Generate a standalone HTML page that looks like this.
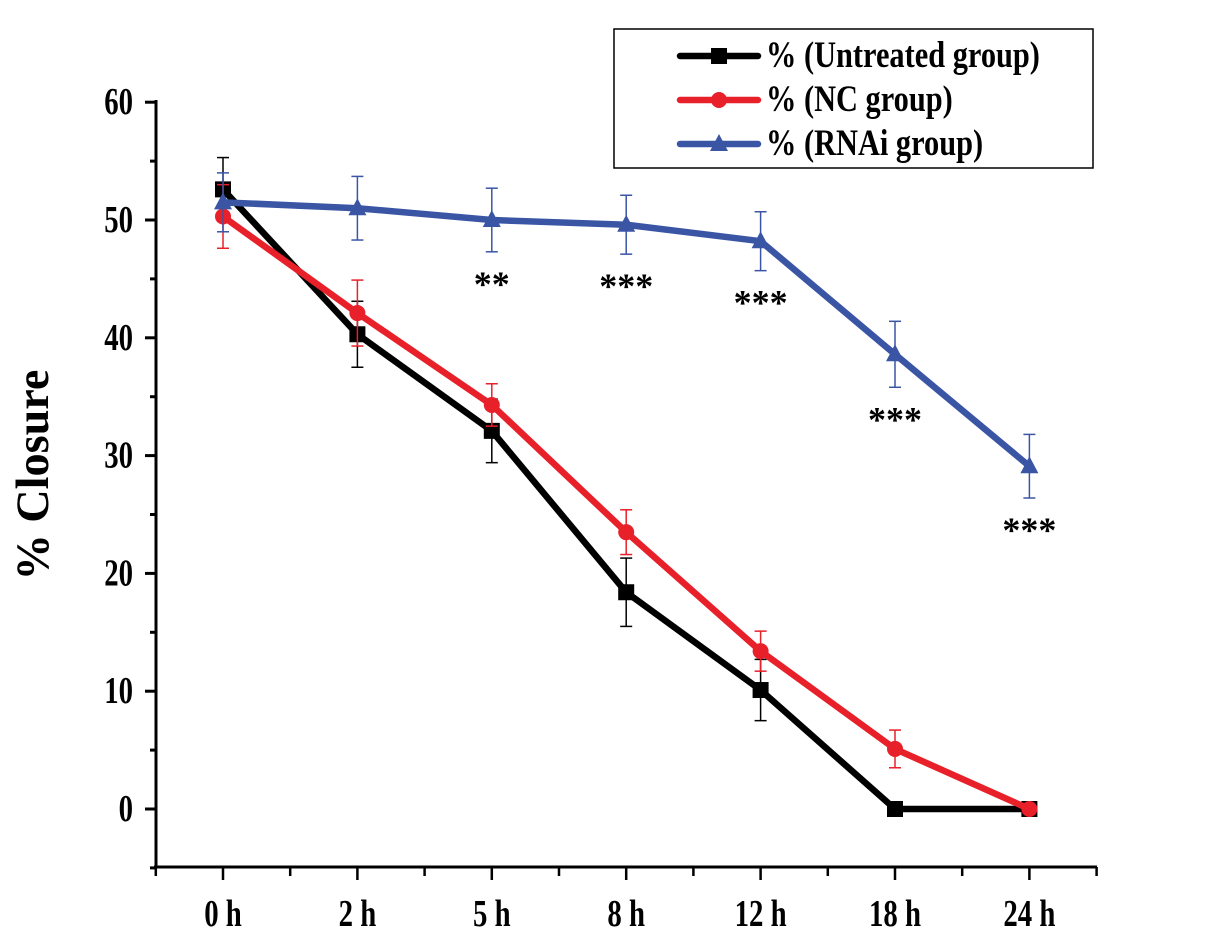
<!DOCTYPE html>
<html><head><meta charset="utf-8"><style>
body{margin:0;background:#fff;}
svg text{font-family:"Liberation Serif",serif;font-weight:bold;}
</style></head><body>
<svg id="chart" width="1205" height="934" xmlns="http://www.w3.org/2000/svg">
<g id="axes"></g>
<g id="series"></g>
<g id="legend"></g>
</svg>
<script>
const categories = ["0 h","2 h","5 h","8 h","12 h","18 h","24 h"];
const untreated = [52.6,40.3,32.1,18.4,10.1,0,0];
const untreatedErr = [2.7,2.8,2.7,2.9,2.6,0,0];
const nc = [50.3,42.1,34.3,23.5,13.4,5.1,0];
const ncErr = [2.7,2.8,1.8,1.9,1.7,1.6,0];
const rnai = [51.5,51.0,50.0,49.6,48.2,38.6,29.1];
const rnaiErr = [2.5,2.7,2.7,2.5,2.5,2.8,2.7];
const stars = ["","","**","***","***","***","***"];
const yTicks = [0,10,20,30,40,50,60];

const NS="http://www.w3.org/2000/svg";
const x0=223, dx=134.4;
const xs=i=>x0+i*dx;
const ys=v=>809-v*11.78;
function mk(parent,tag,attrs,text){const e=document.createElementNS(NS,tag);for(const k in attrs)e.setAttribute(k,attrs[k]);if(text!==undefined)e.textContent=text;parent.appendChild(e);return e;}
function tall(parent,x,y,size,anchor,str,sy,sx){
  return mk(parent,'text',{x:0,y:0,'font-size':size,'text-anchor':anchor,transform:`translate(${x},${y}) scale(${sx||0.9},${sy||1.2})`},str);
}
const axes=document.getElementById('axes');
let e;
e=mk(axes,'line',{x1:156,y1:100,x2:156,y2:868,stroke:'#000','stroke-width':3});


e=mk(axes,'line',{x1:154,y1:867,x2:1097,y2:867,stroke:'#000','stroke-width':3});


for(let v=-5;v<=60;v+=5){
  const major=v%10===0;
  mk(axes,'line',{x1:major?145:150,y1:ys(v),x2:156,y2:ys(v),stroke:'#000','stroke-width':3});
}
yTicks.forEach(v=>{
  e=tall(axes,133,ys(v)+12,32,'end',String(v));
  
  
});
for(let i=-0.5;i<=6.5;i+=0.5){
  const major=Number.isInteger(i);
  mk(axes,'line',{x1:xs(i),y1:867,x2:xs(i),y2:major?880:876,stroke:'#000','stroke-width':2.5});
}
categories.forEach((c,i)=>{
  e=tall(axes,xs(i),926,32,'middle',c);
  
  
});
e=mk(axes,'text',{x:0,y:0,'font-size':44,'text-anchor':'middle',transform:'translate(48,475) rotate(-90) scale(1.05,1.05)'},'%  Closure');



const ser=document.getElementById('series');
function marker(g,type,x,y,color,s){
  if(type==='sq')return mk(g,'rect',{x:x-s,y:y-s,width:2*s,height:2*s,fill:color});
  if(type==='ci')return mk(g,'circle',{cx:x,cy:y,r:s,fill:color});
  return mk(g,'polygon',{points:`${x},${y-s-2} ${x-s-1},${y+s-1} ${x+s+1},${y+s-1}`,fill:color});
}
function drawSeries(name,vals,errs,color,type){
  const g=mk(ser,'g',{});
  
  
  vals.forEach((v,i)=>{
    if(errs[i]>0){
      const x=xs(i);
      mk(g,'line',{x1:x,y1:ys(v+errs[i]),x2:x,y2:ys(v-errs[i]),stroke:color,'stroke-width':1.5});
      mk(g,'line',{x1:x-6,y1:ys(v+errs[i]),x2:x+6,y2:ys(v+errs[i]),stroke:color,'stroke-width':1.5});
      mk(g,'line',{x1:x-6,y1:ys(v-errs[i]),x2:x+6,y2:ys(v-errs[i]),stroke:color,'stroke-width':1.5});
    }
  });
  mk(g,'polyline',{points:vals.map((v,i)=>xs(i)+','+ys(v)).join(' '),fill:'none',stroke:color,'stroke-width':6.5,'stroke-linejoin':'round'});
  vals.forEach((v,i)=>{
    const m=marker(g,type,xs(i),ys(v),color,8);
    
    
  });
}
drawSeries('untreated-series',untreated,untreatedErr,'#000','sq');
drawSeries('nc-series',nc,ncErr,'#e8202a','ci');
drawSeries('rnai-series',rnai,rnaiErr,'#3b55a5','tri');
stars.forEach((s,i)=>{
  if(!s)return;
  e=mk(ser,'text',{x:xs(i),y:ys(rnai[i]-rnaiErr[i])+44,'text-anchor':'middle','font-size':36},s);
  
  
});

const lg=document.getElementById('legend');
e=mk(lg,'rect',{x:614,y:29,width:479,height:139,fill:'#fff',stroke:'#000','stroke-width':1.5});


const leg=[['% (Untreated group)','#000','sq'],['% (NC group)','#e8202a','ci'],['% (RNAi group)','#3b55a5','tri']];
leg.forEach((l,i)=>{
  const y=56+i*44;
  const g=mk(lg,'g',{});
  
  
  mk(g,'line',{x1:680,y1:y,x2:758,y2:y,stroke:l[1],'stroke-width':6.5,'stroke-linecap':'round'});
  marker(g,l[2],719,y,l[1],8);
  tall(g,766,y+11,31,'start',l[0],1.2,0.98);
});
</script>
</body></html>
